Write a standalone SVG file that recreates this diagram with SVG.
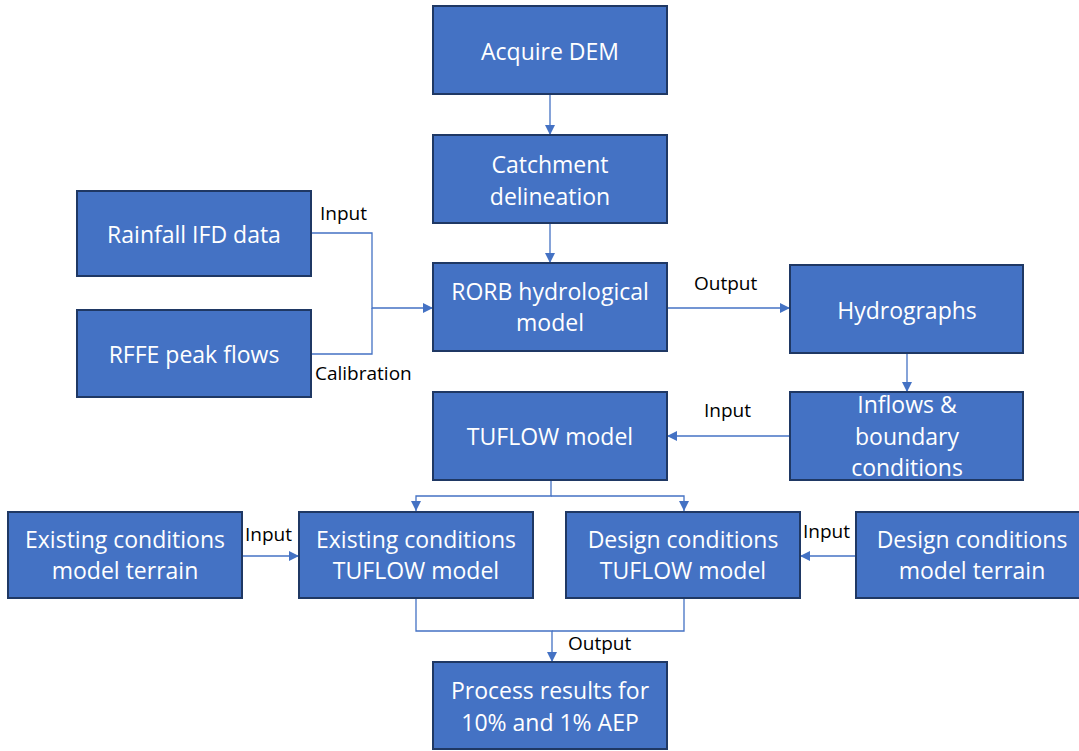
<svg xmlns="http://www.w3.org/2000/svg" width="1079" height="751" viewBox="0 0 1079 751">
<defs>
<style>
.box{fill:#4472c4;stroke:#1f3864;stroke-width:2}
.t{fill:#fff;font-family:"Open Sans","Noto Sans",sans-serif;font-size:23px;text-anchor:middle}
.lbl{fill:#000;font-family:"Open Sans","Noto Sans",sans-serif;font-size:19px}
.c{fill:none;stroke:#4472c4;stroke-width:1.3}
</style>
<marker id="ah" viewBox="0 0 10 10" refX="10" refY="5" markerWidth="10" markerHeight="10" markerUnits="userSpaceOnUse" orient="auto">
<path d="M0,0 L10,5 L0,10 z" fill="#4472c4"/>
</marker>
</defs>
<rect width="1079" height="751" fill="#fff"/>
<g id="connectors">
<path class="c" d="M550,94 V135" marker-end="url(#ah)"/>
<path class="c" d="M550,223 V263" marker-end="url(#ah)"/>
<path class="c" d="M311,233 H372 V308 H433" marker-end="url(#ah)"/>
<path class="c" d="M311,354 H372 V308"/>
<path class="c" d="M667,308 H790" marker-end="url(#ah)"/>
<path class="c" d="M907,354 V392" marker-end="url(#ah)"/>
<path class="c" d="M790,436 H667" marker-end="url(#ah)"/>
<path class="c" d="M551,480 V496 H416 V511" marker-end="url(#ah)"/>
<path class="c" d="M551,496 H684 V511" marker-end="url(#ah)"/>
<path class="c" d="M242,556 H299" marker-end="url(#ah)"/>
<path class="c" d="M856,556 H800" marker-end="url(#ah)"/>
<path class="c" d="M416,598 V631 H552 V662" marker-end="url(#ah)"/>
<path class="c" d="M684,598 V631 H552"/>
<text class="lbl" x="320" y="220">Input</text>
<text class="lbl" x="315" y="380">Calibration</text>
<text class="lbl" x="694" y="290">Output</text>
<text class="lbl" x="704" y="417">Input</text>
<text class="lbl" x="245" y="541">Input</text>
<text class="lbl" x="803" y="538">Input</text>
<text class="lbl" x="568" y="650">Output</text>
</g>
<g id="acquire"><rect class="box" x="433" y="6" width="234" height="88"/><text class="t" x="550" y="60">Acquire DEM</text></g>
<g id="catchment"><rect class="box" x="433" y="135" width="234" height="88"/><text class="t" x="550" y="173">Catchment</text><text class="t" x="550" y="205">delineation</text></g>
<g id="rainfall"><rect class="box" x="77" y="191" width="234" height="85"/><text class="t" x="194" y="243">Rainfall IFD data</text></g>
<g id="rffe"><rect class="box" x="77" y="310" width="234" height="87"/><text class="t" x="194" y="363">RFFE peak flows</text></g>
<g id="rorb"><rect class="box" x="433" y="263" width="234" height="88"/><text class="t" x="550" y="300">RORB hydrological</text><text class="t" x="550" y="331">model</text></g>
<g id="hydrographs"><rect class="box" x="790" y="265" width="233" height="88"/><text class="t" x="907" y="319">Hydrographs</text></g>
<g id="tuflow"><rect class="box" x="433" y="392" width="234" height="88"/><text class="t" x="550" y="445">TUFLOW model</text></g>
<g id="inflows"><rect class="box" x="790" y="392" width="233" height="88"/><text class="t" x="907" y="413">Inflows &amp;</text><text class="t" x="907" y="445">boundary</text><text class="t" x="907" y="476">conditions</text></g>
<g id="existing-terrain"><rect class="box" x="8" y="512" width="234" height="86"/><text class="t" x="125" y="548">Existing conditions</text><text class="t" x="125" y="579">model terrain</text></g>
<g id="existing-tuflow"><rect class="box" x="299" y="512" width="234" height="86"/><text class="t" x="416" y="548">Existing conditions</text><text class="t" x="416" y="579">TUFLOW model</text></g>
<g id="design-tuflow"><rect class="box" x="566" y="512" width="234" height="86"/><text class="t" x="683" y="548">Design conditions</text><text class="t" x="683" y="579">TUFLOW model</text></g>
<g id="design-terrain"><rect class="box" x="856" y="512" width="226" height="86"/><text class="t" x="972" y="548">Design conditions</text><text class="t" x="972" y="579">model terrain</text></g>
<g id="process"><rect class="box" x="433" y="662" width="234" height="87"/><text class="t" x="550" y="699">Process results for</text><text class="t" x="550" y="731">10% and 1% AEP</text></g>
</svg>
